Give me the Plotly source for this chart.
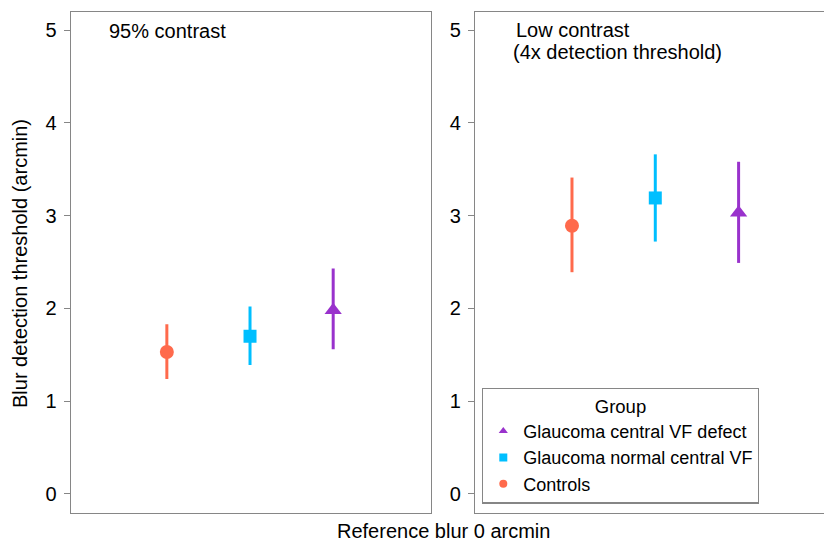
import plotly.graph_objects as go

# ---- data ----
groups = ["Controls", "Glaucoma normal central VF", "Glaucoma central VF defect"]
colors = ["#FF6A4C", "#00BFFF", "#9932CC"]
symbols = ["circle", "square", "triangle-up"]

mean_95 = [1.53, 1.70, 1.98]
lo_95 = [1.24, 1.39, 1.56]
hi_95 = [1.83, 2.02, 2.43]

mean_low = [2.89, 3.19, 3.03]
lo_low = [2.39, 2.72, 2.49]
hi_low = [3.41, 3.66, 3.58]

y_ticks = [0, 1, 2, 3, 4, 5]
legend_order = ["Glaucoma central VF defect", "Glaucoma normal central VF", "Controls"]

FONT = "Liberation Sans, Arial, Helvetica, sans-serif"
W, H = 824, 542


def px(x):
    return x / W


def py(y):
    return 1 - y / H


fig = go.Figure()

sizes = {"circle": 14, "square": 13, "triangle-up": 15}

for i, g in enumerate(groups):
    for (m, lo, hi, xa, ya) in [(mean_95, lo_95, hi_95, "x", "y"),
                                (mean_low, lo_low, hi_low, "x2", "y2")]:
        fig.add_trace(go.Scatter(
            x=[g], y=[m[i]], xaxis=xa, yaxis=ya, mode="markers",
            marker=dict(color=colors[i], symbol=symbols[i], size=sizes[symbols[i]]),
            error_y=dict(type="data", symmetric=False,
                         array=[hi[i] - m[i]], arrayminus=[m[i] - lo[i]],
                         color=colors[i], thickness=3, width=0),
            showlegend=False, name=g))

# legend-only entries
for g in legend_order:
    i = groups.index(g)
    fig.add_trace(go.Scatter(
        x=[None], y=[None], xaxis="x2", yaxis="y2", mode="markers",
        marker=dict(color=colors[i], symbol=symbols[i], size=8),
        name=g, showlegend=True, legendrank=legend_order.index(g) + 1))

LC = "#868686"
yrange = [-0.205, 5.194]

axis_common_y = dict(range=yrange, tickvals=y_ticks, ticks="outside", ticklen=6,
                     tickcolor=LC, tickwidth=1.2, showgrid=False, zeroline=False,
                     showline=True, linecolor=LC, linewidth=1.3,
                     tickfont=dict(family=FONT, size=20, color="#000"),
                     ticklabelstandoff=3, domain=[py(513), py(12)])
axis_common_x = dict(type="category", categoryorder="array", categoryarray=groups,
                     showticklabels=False, ticks="", showgrid=False, zeroline=False,
                     showline=True, linecolor=LC, linewidth=1.3, mirror=True)

fig.update_layout(
    width=W, height=H,
    margin=dict(l=0, r=0, t=0, b=0),
    paper_bgcolor="white", plot_bgcolor="white",
    font=dict(family=FONT, size=20, color="#000"),
    xaxis=dict(**axis_common_x, domain=[px(70.7), px(431)], range=[-1.156, 3.176]),
    yaxis=dict(**axis_common_y, anchor="x", mirror=True),
    xaxis2=dict(**axis_common_x, domain=[px(475), 1.0], range=[-1.164, 3.025]),
    yaxis2=dict(**axis_common_y, anchor="x2", mirror=False),
    legend=dict(x=px(482), y=py(387.5), xanchor="left", yanchor="top",
                bordercolor=LC, borderwidth=1.3, bgcolor="white",
                font=dict(family=FONT, size=18, color="#000"),
                title=dict(text="Group", side="top center",
                           font=dict(family=FONT, size=18.5, color="#000")),
                itemwidth=30, tracegroupgap=0),
    annotations=[
        dict(text="95% contrast", x=px(107), y=py(31), xref="paper", yref="paper",
             xanchor="left", yanchor="middle", showarrow=False,
             font=dict(family=FONT, size=20)),
        dict(text="Low contrast", x=px(514), y=py(30.5), xref="paper", yref="paper",
             xanchor="left", yanchor="middle", showarrow=False,
             font=dict(family=FONT, size=20)),
        dict(text="(4x detection threshold)", x=px(510.5), y=py(52), xref="paper",
             yref="paper", xanchor="left", yanchor="middle", showarrow=False,
             font=dict(family=FONT, size=20)),
        dict(text="Blur detection threshold (arcmin)", x=px(20), y=py(264),
             xref="paper", yref="paper", xanchor="center", yanchor="middle",
             textangle=-90, showarrow=False, font=dict(family=FONT, size=20)),
        dict(text="Reference blur 0 arcmin", x=px(443.5), y=py(531), xref="paper",
             yref="paper", xanchor="center", yanchor="middle", showarrow=False,
             font=dict(family=FONT, size=20)),
    ],
)

fig.write_html(
    "out.html",
    config={"displayModeBar": False},
    post_script="document.body.style.margin='0';document.body.style.overflow='hidden';",
)
